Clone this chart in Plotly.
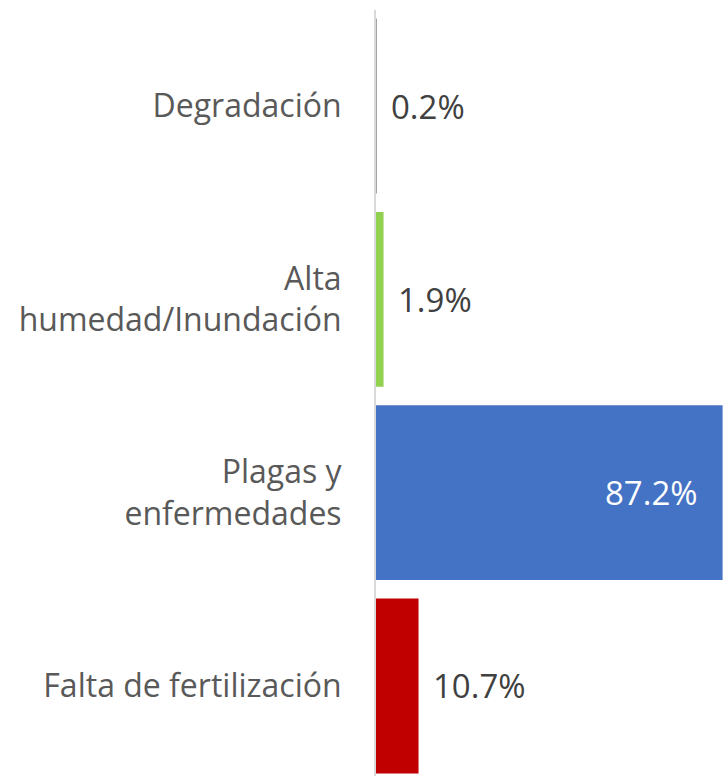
import plotly.graph_objects as go

# Data
categories = ["Degradación", "Alta<br>humedad/Inundación", "Plagas y<br>enfermedades", "Falta de fertilización"]
values = [0.2, 1.9, 87.2, 10.7]
labels = ["0.2%", "1.9%", "87.2%", "10.7%"]
colors = ["#A5A5A5", "#92D050", "#4472C4", "#C00000"]

FONT = "Open Sans, Noto Sans, sans-serif"

fig = go.Figure()

fig.add_trace(go.Bar(
    x=values,
    y=categories,
    orientation="h",
    marker_color=colors,
    marker_line_width=0,
    hoverinfo="skip",
))

# Value labels: outside for small bars, inside (white) for the big one
for cat, val, lab in zip(categories, values, labels):
    inside = val > 50
    fig.add_annotation(
        x=val,
        y=cat,
        text=lab,
        showarrow=False,
        xanchor="right" if inside else "left",
        xshift=-23 if inside else 12,
        font=dict(family=FONT, size=33, color="white" if inside else "#404040"),
    )

fig.update_layout(
    width=723,
    height=776,
    margin=dict(l=376, r=0, t=10, b=0),
    plot_bgcolor="white",
    paper_bgcolor="white",
    bargap=0.095,
    showlegend=False,
    font=dict(family=FONT, size=32, color="#595959"),
)

fig.update_xaxes(
    range=[0, 87.3],
    visible=False,
)

fig.update_yaxes(
    categoryorder="array",
    categoryarray=categories,
    range=[3.466, -0.497],
    showline=True,
    linecolor="#D9D9D9",
    linewidth=2,
    showgrid=False,
    ticks="",
    ticklabelstandoff=26,
    tickfont=dict(family=FONT, size=32, color="#595959"),
)

# drop the default 8px page margin so the chart fills the window
fig.write_html(
    "out.html",
    config={"displayModeBar": False},
    post_script="document.body.style.margin='0px'; document.body.style.overflow='hidden'; Plotly.Plots.resize(document.getElementById('{plot_id}'));",
)
